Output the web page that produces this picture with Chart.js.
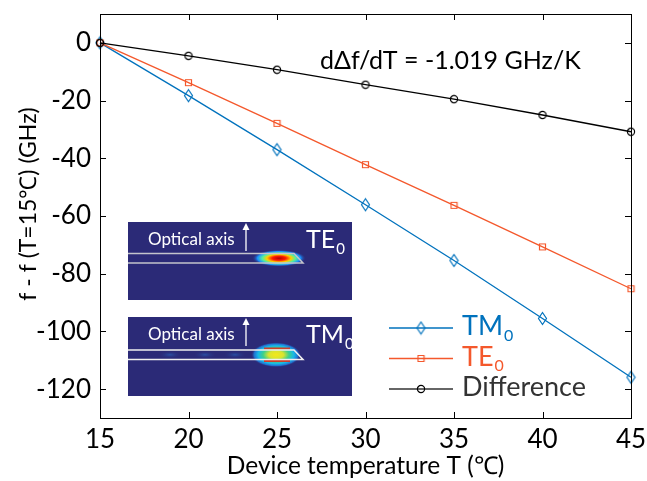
<!DOCTYPE html>
<html><head><meta charset="utf-8">
<script src="https://cdn.jsdelivr.net/npm/chart.js@4/dist/chart.umd.min.js"></script>
<style>html,body{margin:0;padding:0;background:#fff}#wrap{width:647px;height:481px;position:relative}</style>
</head><body><div id="wrap"><canvas id="c" width="647" height="481"></canvas></div>
<script>
// ---- data ----
const temps = [15, 20, 25, 30, 35, 40, 45];
const tmValues = [0, -18.3, -37.0, -56.1, -75.4, -95.5, -115.9];
const teValues = [0, -13.8, -27.9, -42.2, -56.3, -70.7, -85.2];
const diffValues = [0, -4.5, -9.3, -14.5, -19.5, -25.0, -30.8];
const xTicks = [15, 20, 25, 30, 35, 40, 45];
const yTicks = [0, -20, -40, -60, -80, -100, -120];
const seriesNames = ['TM', 'TE', 'Difference'];
const seriesSubs = ['0', '0', ''];
const slopeLabel = 'dΔf/dT = -1.019 GHz/K';
const xTitle = 'Device temperature T (℃)';
const yTitle = 'f - f (T=15℃) (GHz)';
const insetModes = ['TE', 'TM'];
const insetCaption = 'Optical axis';

const FONT = 'Lato, "Open Sans", sans-serif';
const BLUE = '#0072BD', ORANGE = '#F4582C', BLACK = '#000000';
const colors = [BLUE, ORANGE, BLACK];
const legendTextColors = [BLUE, ORANGE, '#333333'];

function makeMarker(kind, color) {
  const c = document.createElement('canvas');
  let w, h;
  if (kind === 'diamond') { w = 11; h = 15; }
  else if (kind === 'square') { w = 9; h = 9; }
  else { w = 10; h = 10; }
  c.width = w; c.height = h;
  const g = c.getContext('2d');
  g.strokeStyle = color; g.lineWidth = 1.2;
  g.beginPath();
  if (kind === 'diamond') {
    g.moveTo(w / 2, 1.5); g.lineTo(w - 1.5, h / 2); g.lineTo(w / 2, h - 1.5); g.lineTo(1.5, h / 2); g.closePath();
  } else if (kind === 'square') {
    g.rect(1.5, 1.5, w - 3, h - 3);
  } else {
    g.arc(w / 2, h / 2, 3.6, 0, Math.PI * 2);
  }
  g.stroke();
  return c;
}
const markers = [makeMarker('diamond', BLUE), makeMarker('square', ORANGE), makeMarker('circle', BLACK)];
const allValues = [tmValues, teValues, diffValues];

const datasets = allValues.map((vals, i) => ({
  label: seriesNames[i] + seriesSubs[i],
  data: temps.map((t, k) => ({ x: t, y: vals[k] })),
  borderColor: colors[i],
  backgroundColor: colors[i],
  borderWidth: 1.3,
  pointStyle: markers[i],
  pointRadius: 5,
  pointHoverRadius: 5,
  tension: 0,
  clip: false,
  order: 3 - i
}));

function drawTextWithSub(ctx, x, y, main, sub, size, color) {
  ctx.fillStyle = color;
  ctx.font = size + 'px ' + FONT;
  ctx.textAlign = 'left'; ctx.textBaseline = 'alphabetic';
  ctx.fillText(main, x, y);
  if (sub) {
    const w = ctx.measureText(main).width;
    ctx.font = Math.round(size * 0.6) + 'px ' + FONT;
    ctx.fillText(sub, x + w + 1, y + size * 0.22);
  }
}

const framePlugin = {
  id: 'frame',
  afterDraw(chart) {
    const ctx = chart.ctx, a = chart.chartArea;
    const xs = chart.scales.x, ys = chart.scales.y;
    ctx.save();
    ctx.strokeStyle = '#000'; ctx.lineWidth = 1;
    ctx.strokeRect(Math.round(a.left) + 0.5, Math.round(a.top) + 0.5, Math.round(a.right - a.left), Math.round(a.bottom - a.top));
    const tl = 6;
    ctx.beginPath();
    xTicks.forEach(v => {
      const px = Math.round(xs.getPixelForValue(v)) + 0.5;
      ctx.moveTo(px, a.bottom); ctx.lineTo(px, a.bottom - tl);
      ctx.moveTo(px, a.top); ctx.lineTo(px, a.top + tl);
    });
    yTicks.forEach(v => {
      const py = Math.round(ys.getPixelForValue(v)) + 0.5;
      ctx.moveTo(a.left, py); ctx.lineTo(a.left + tl, py);
      ctx.moveTo(a.right, py); ctx.lineTo(a.right - tl, py);
    });
    ctx.stroke();

    // y axis title
    ctx.save();
    ctx.translate(29, 204);
    ctx.rotate(-Math.PI / 2);
    ctx.fillStyle = '#000';
    ctx.font = '23px ' + FONT;
    ctx.textAlign = 'center'; ctx.textBaseline = 'middle';
    ctx.fillText(yTitle, 0, 0);
    ctx.restore();

    // slope annotation
    ctx.fillStyle = '#000';
    ctx.font = '25px ' + FONT;
    ctx.textAlign = 'left'; ctx.textBaseline = 'alphabetic';
    ctx.fillText(slopeLabel, 320, 69);

    // legend
    const ly = [328, 358.5, 389];
    for (let i = 0; i < 3; i++) {
      ctx.strokeStyle = colors[i] === BLACK ? '#333' : colors[i];
      ctx.lineWidth = 1.3;
      ctx.beginPath(); ctx.moveTo(389, ly[i]); ctx.lineTo(453, ly[i]); ctx.stroke();
      const m = markers[i];
      ctx.drawImage(m, 421 - m.width / 2, ly[i] - m.height / 2);
      drawTextWithSub(ctx, 462, ly[i] + 7, seriesNames[i], seriesSubs[i], 27, legendTextColors[i]);
    }

    // insets
    const insets = [{ y0: 222, y1: 300 }, { y0: 317, y1: 396 }];
    insets.forEach((ins, k) => {
      const x0 = 128, x1 = 352;
      ctx.fillStyle = '#2b2a77';
      ctx.fillRect(x0, ins.y0, x1 - x0, ins.y1 - ins.y0);
      const lt = ins.y0 + (k === 0 ? 31.5 : 33), lb = lt + 9.5;
      if (k === 1) {
        [170, 205, 235].forEach(cx => {
          ctx.save(); ctx.translate(cx, (lt + lb) / 2); ctx.scale(12, 4);
          const g = ctx.createRadialGradient(0, 0, 0, 0, 0, 1);
          g.addColorStop(0, 'rgba(40,110,200,0.55)'); g.addColorStop(1, 'rgba(43,42,119,0)');
          ctx.fillStyle = g; ctx.beginPath(); ctx.arc(0, 0, 1, 0, Math.PI * 2); ctx.fill(); ctx.restore();
        });
      }
      ctx.save();
      if (k === 0) {
        ctx.translate(279, (lt + lb) / 2); ctx.scale(27, 8.5);
        const g = ctx.createRadialGradient(0, 0, 0, 0, 0, 1);
        g.addColorStop(0, '#b00000'); g.addColorStop(0.25, '#ff1a00');
        g.addColorStop(0.45, '#ffd000'); g.addColorStop(0.62, '#50f0a0');
        g.addColorStop(0.8, '#1a90ff'); g.addColorStop(1, 'rgba(43,42,119,0)');
        ctx.fillStyle = g;
      } else {
        ctx.translate(276, (lt + lb) / 2); ctx.scale(25, 12.5);
        const g = ctx.createRadialGradient(0, 0, 0, 0, 0, 1);
        g.addColorStop(0, '#f4e81a'); g.addColorStop(0.3, '#d8e430');
        g.addColorStop(0.52, '#3ed08a'); g.addColorStop(0.72, '#18b8e8');
        g.addColorStop(0.88, '#2070d0'); g.addColorStop(1, 'rgba(43,42,119,0)');
        ctx.fillStyle = g;
      }
      ctx.beginPath(); ctx.arc(0, 0, 1, 0, Math.PI * 2); ctx.fill();
      ctx.restore();
      if (k === 1) {
        ctx.strokeStyle = 'rgba(230,40,20,0.85)'; ctx.lineWidth = 2;
        ctx.beginPath();
        ctx.moveTo(264, lt - 1.5); ctx.lineTo(290, lt - 1.5);
        ctx.moveTo(264, lb + 1.5); ctx.lineTo(290, lb + 1.5);
        ctx.stroke();
      }
      ctx.strokeStyle = k === 0 ? '#c4c4cc' : '#f0f0f0'; ctx.lineWidth = 1.5;
      ctx.beginPath();
      ctx.moveTo(x0, lt); ctx.lineTo(294, lt); ctx.lineTo(303, lb); ctx.lineTo(x0, lb);
      ctx.stroke();
      ctx.fillStyle = '#ffffff';
      ctx.font = '17px ' + FONT;
      ctx.textAlign = 'left'; ctx.textBaseline = 'alphabetic';
      ctx.fillText(insetCaption, 148, ins.y0 + 23);
      ctx.strokeStyle = '#fff'; ctx.lineWidth = 1.3;
      ctx.beginPath(); ctx.moveTo(246, ins.y0 + 29); ctx.lineTo(246, ins.y0 + 4); ctx.stroke();
      ctx.beginPath(); ctx.moveTo(246, ins.y0 + 1); ctx.lineTo(242.5, ins.y0 + 8); ctx.lineTo(249.5, ins.y0 + 8); ctx.closePath(); ctx.fill();
      drawTextWithSub(ctx, 306, ins.y0 + 26, insetModes[k], '0', 25, '#ffffff');
    });
    ctx.restore();
  }
};

new Chart(document.getElementById('c'), {
  type: 'line',
  data: { datasets },
  plugins: [framePlugin],
  options: {
    responsive: false,
    animation: false,
    devicePixelRatio: 1,
    layout: { padding: { left: 0, top: 14, right: 16, bottom: 0 } },
    plugins: { legend: { display: false }, tooltip: { enabled: false } },
    scales: {
      x: {
        type: 'linear', min: 15, max: 45,
        afterBuildTicks: s => { s.ticks = xTicks.map(v => ({ value: v })); },
        afterFit: s => { s.height = 63; s.paddingLeft = 0; s.paddingRight = 0; s.paddingTop = 0; s.paddingBottom = 0; },
        grid: { display: false, drawTicks: false },
        border: { display: false },
        ticks: { color: '#000', font: { family: FONT, size: 26 }, padding: 6, maxRotation: 0 },
        title: { display: true, text: xTitle, color: '#000', font: { family: FONT, size: 24.5 }, padding: { top: 0, bottom: 0 } }
      },
      y: {
        type: 'linear', min: -130, max: 10,
        afterBuildTicks: s => { s.ticks = yTicks.map(v => ({ value: v })); },
        afterFit: s => { s.width = 100; s.paddingLeft = 0; s.paddingRight = 0; s.paddingTop = 0; s.paddingBottom = 0; },
        grid: { display: false, drawTicks: false },
        border: { display: false },
        ticks: { color: '#000', font: { family: FONT, size: 26 }, padding: 9 },
        title: { display: false }
      }
    }
  }
});
</script>
</body></html>
